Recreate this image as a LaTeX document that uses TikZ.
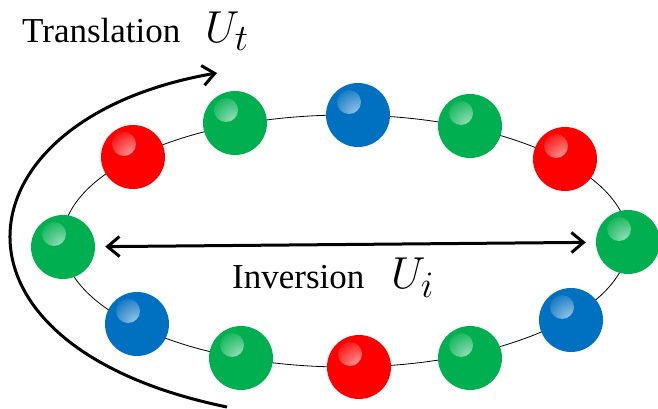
\documentclass[tikz,border=0pt]{standalone}
\usepackage{graphicx}
\usepackage{fontspec}
\setmainfont{Liberation Serif}
\usetikzlibrary{arrows.meta, calc}
\definecolor{ballred}{RGB}{255, 0, 0}
\definecolor{ballgreen}{RGB}{0, 176, 80}
\definecolor{ballblue}{RGB}{0, 112, 192}
\newcommand{\opsym}[1]{{\fontsize{24.88}{30}\selectfont\scalebox{1.8}{$#1$}}}

\begin{document}
\begin{tikzpicture}[
    x=1pt, y=-1pt,
    ball/.style={circle, fill=#1, minimum size=64pt, inner sep=0pt,
        path picture={\shade[inner color=white!65!#1, outer color=#1]
            ([shift={(-9,-13)}]path picture bounding box.center) circle (12);}},
    opname/.style={inner sep=0pt, anchor=base west, font=\fontsize{35}{42}\selectfont},
    arrow/.style={-{Straight Barb[length=12pt, width=20pt]}, line width=3pt},
    twoway/.style={{Straight Barb[length=12pt, width=20pt]}-{Straight Barb[length=12pt, width=20pt]}, line width=3pt}
]
    \useasboundingbox (0,0) rectangle (658,409);

    % ring
    \draw[line width=0.8pt] (345.5,241) ellipse [x radius=283, y radius=126];
    \foreach \px/\py/\col [count=\k] in {63/247/ballgreen, 133/157/ballred, 235/123/ballgreen,
        358/115/ballblue, 470/126/ballgreen, 565/159/ballred, 628/242/ballgreen,
        571/320/ballblue, 470/358/ballgreen, 359/367/ballred, 241/358/ballgreen, 137/324/ballblue}
        \node[ball=\col] (b\k) at (\px,\py) {};

    % inversion
    \draw[twoway, shorten <=10pt, shorten >=10pt] (b1) -- (b7);
    \node[opname] (inv) at (232,288) {Inversion};
    \node[opname] (ui) at (391,288) {\opsym{U_i}};

    % translation
    \coordinate (tbot) at (227,407);
    \coordinate (ttop) at (217,73);
    \draw[arrow] (tbot) .. controls (-75,345) and (-45,118) .. (ttop);
    \node[opname] (trans) at (22,43) {Translation};
    \node[opname] (ut) at (205,43) {\opsym{U_t}};
\end{tikzpicture}
\end{document}
